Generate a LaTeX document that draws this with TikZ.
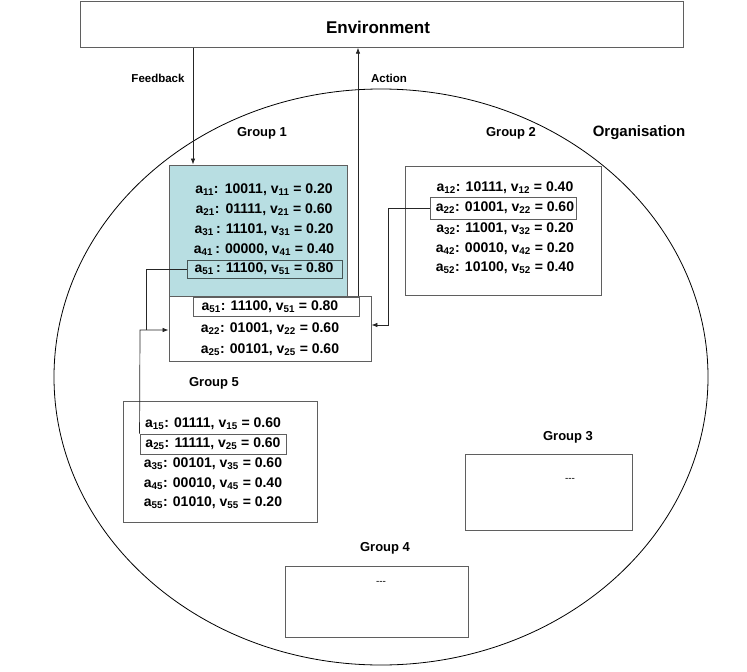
\documentclass[tikz,border=0pt]{standalone}
\usepackage{fontspec}
\setmainfont{Liberation Sans}
\usetikzlibrary{arrows.meta}
\definecolor{tealfill}{RGB}{184,222,226}
\definecolor{bord}{RGB}{95,95,95}
\definecolor{hlbord}{RGB}{70,85,85}
\newcommand\myrow[4]{a\textsubscript{#1}#2#3, v\textsubscript{#1} = #4}
\begin{document}
\begin{tikzpicture}[x=1pt,y=-1pt,
  box/.style={draw=bord, line width=0.9pt, fill=white, inner sep=0pt},
  rowtxt/.style={font=\fontsize{14}{16}\selectfont\bfseries, inner sep=0pt},
  hl/.style={draw=bord, line width=0.9pt, inner sep=0pt},
  lbl/.style={font=\fontsize{13}{15}\selectfont\bfseries, inner sep=0pt},
  small/.style={font=\fontsize{11.5}{13}\selectfont\bfseries, inner sep=0pt},
  conn/.style={draw=black!85, line width=0.7pt},
  arr/.style={conn, -{Latex[length=6pt,width=4.5pt]}}
]
\useasboundingbox (0,0) rectangle (747,672);

% organisation ellipse
\draw[line width=0.8pt] (381,377) ellipse [x radius=327, y radius=288];

% environment
\node[box, minimum width=603pt, minimum height=45.5pt] (env) at (381.5,24.5) {};
\node[font=\fontsize{17}{19}\selectfont\bfseries, inner sep=0pt] (envt) at (378,27) {Environment};

% group boxes
\node[box, fill=tealfill, minimum width=178pt, minimum height=131pt] (g1) at (258,230.5) {};
\node[box, minimum width=202pt, minimum height=65pt] (m) at (270,328.5) {};
\node[box, minimum width=196pt, minimum height=129pt] (g2) at (503,230.5) {};
\node[box, minimum width=194pt, minimum height=121pt] (g5) at (220,461.5) {};
\node[box, minimum width=167pt, minimum height=76pt] (g3) at (548.5,492) {};
\node[box, minimum width=183pt, minimum height=71pt] (g4) at (376.5,601.5) {};

% labels
\node[lbl] (l1) at (262,133) {Group 1};
\node[lbl] (l2) at (511,133) {Group 2};
\node[font=\fontsize{15}{17}\selectfont\bfseries, inner sep=0pt] (lorg) at (639,133) {Organisation};
\node[lbl] (l5) at (214,383) {Group 5};
\node[lbl] (l3) at (568,437) {Group 3};
\node[lbl] (l4) at (385,548) {Group 4};
\node[small] (lfb) at (158,78) {Feedback};
\node[small] (lac) at (389,78) {Action};
\node[font=\fontsize{10}{12}\selectfont, inner sep=0pt] (d3) at (570,480) {{-}{-}{-}};
\node[font=\fontsize{10}{12}\selectfont, inner sep=0pt] (d4) at (381,583) {{-}{-}{-}};

% group 1 rows
\node[rowtxt] (r11) at (264,190) {\myrow{11}{:\ \,}{10011}{0.20}};
\node[rowtxt] (r21) at (264,210) {\myrow{21}{:\ \,}{01111}{0.60}};
\node[rowtxt] (r31) at (264,230) {\myrow{31}{\,: }{11101}{0.20}};
\node[rowtxt] (r41) at (264,250) {\myrow{41}{\,: }{00000}{0.40}};
\node[hl, draw=hlbord, minimum width=155pt, minimum height=18pt] (h1) at (264.5,269) {};
\node[rowtxt] (r51) at (264,269) {\myrow{51}{\,: }{11100}{0.80}};

% group 2 rows
\node[rowtxt] (r12) at (505,188) {\myrow{12}{: }{10111}{0.40}};
\node[hl, minimum width=146pt, minimum height=22pt] (h2) at (503,208) {};
\node[rowtxt] (r22) at (505,208) {\myrow{22}{: }{01001}{0.60}};
\node[rowtxt] (r32) at (505,229) {\myrow{32}{: }{11001}{0.20}};
\node[rowtxt] (r42) at (505,249) {\myrow{42}{: }{00010}{0.20}};
\node[rowtxt] (r52) at (505,268) {\myrow{52}{: }{10100}{0.40}};

% merged rows
\node[hl, minimum width=166pt, minimum height=19pt] (h3) at (276,306.5) {};
\node[rowtxt] (m1) at (270,307) {\myrow{51}{: }{11100}{0.80}};
\node[rowtxt] (m2) at (270,329) {\myrow{22}{: }{01001}{0.60}};
\node[rowtxt] (m3) at (270,350) {\myrow{25}{: }{00101}{0.60}};

% group 5 rows
\node[rowtxt] (r15) at (213,424) {\myrow{15}{: }{01111}{0.60}};
\node[hl, minimum width=146pt, minimum height=20pt] (h5) at (213,444) {};
\node[rowtxt] (r25) at (213,444) {\myrow{25}{: }{11111}{0.60}};
\node[rowtxt] (r35) at (213,464) {\myrow{35}{: }{00101}{0.60}};
\node[rowtxt] (r45) at (213,484) {\myrow{45}{: }{00010}{0.40}};
\node[rowtxt] (r55) at (213,503) {\myrow{55}{: }{01010}{0.20}};

% connectors
\coordinate (fbx) at (193,0);
\coordinate (acx) at (358,0);
\draw[arr] (env.south -| fbx) -- (g1.north -| fbx);
\draw[arr] (m.north -| acx) -- (env.south -| acx);

\coordinate (c2) at (388,325);
\draw[arr] (h2.west) -| (c2) -- (c2 -| m.east);

\coordinate (k1) at (146,330);
\draw[conn] (h1.west) -| (k1);

\coordinate (j5) at (140,330);
\draw[arr] (h5.north west) -- (j5) -- (j5 -| m.west);
\end{tikzpicture}
\end{document}
